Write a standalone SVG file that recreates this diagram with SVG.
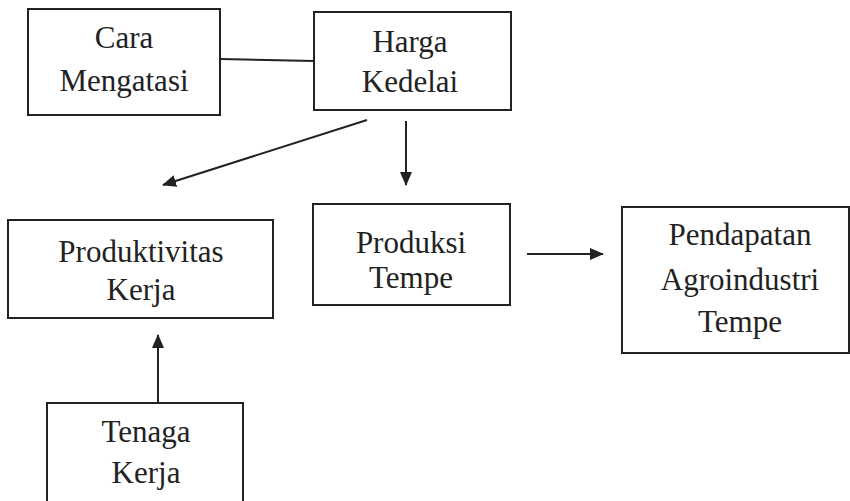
<svg xmlns="http://www.w3.org/2000/svg" width="850" height="501" viewBox="0 0 850 501">
<style>
.box{fill:#fff;stroke:#222;stroke-width:2}
.c{stroke:#222;stroke-width:2;fill:none}
</style>
<defs>
<marker id="ah" viewBox="0 0 14 12" refX="13" refY="6" markerWidth="14" markerHeight="12" markerUnits="userSpaceOnUse" orient="auto">
<path d="M0,0 L14,6 L0,12 Z" fill="#222"/>
</marker>
</defs>
<rect width="850" height="501" fill="#fff"/>
<g id="connectors">
<line class="c" x1="220" y1="59" x2="314" y2="61"/>
<line class="c" x1="406" y1="121" x2="406" y2="185" marker-end="url(#ah)"/>
<line class="c" x1="367" y1="120" x2="163" y2="185" marker-end="url(#ah)"/>
<line class="c" x1="527" y1="254" x2="603" y2="254" marker-end="url(#ah)"/>
<line class="c" x1="158" y1="402" x2="158" y2="335" marker-end="url(#ah)"/>
</g>
<g font-family="Liberation Serif, serif" font-size="31" fill="#222" text-anchor="middle">
<g id="cara-mengatasi">
<rect class="box" x="28" y="9" width="192" height="106"/>
<text x="124" y="48">Cara</text>
<text x="124" y="91">Mengatasi</text>
</g>
<g id="harga-kedelai">
<rect class="box" x="314" y="12" width="197" height="98"/>
<text x="410" y="52">Harga</text>
<text x="410" y="92">Kedelai</text>
</g>
<g id="produktivitas-kerja">
<rect class="box" x="8" y="220" width="265" height="98"/>
<text x="141" y="262">Produktivitas</text>
<text x="141" y="300">Kerja</text>
</g>
<g id="produksi-tempe">
<rect class="box" x="313" y="204" width="197" height="101"/>
<text x="411" y="253">Produksi</text>
<text x="411" y="288">Tempe</text>
</g>
<g id="pendapatan">
<rect class="box" x="622" y="207" width="227" height="146"/>
<text x="740" y="245">Pendapatan</text>
<text x="740" y="290">Agroindustri</text>
<text x="740" y="332">Tempe</text>
</g>
<g id="tenaga-kerja">
<rect class="box" x="47" y="403" width="196" height="110"/>
<text x="146" y="442">Tenaga</text>
<text x="146" y="483">Kerja</text>
</g>
</g>
</svg>
